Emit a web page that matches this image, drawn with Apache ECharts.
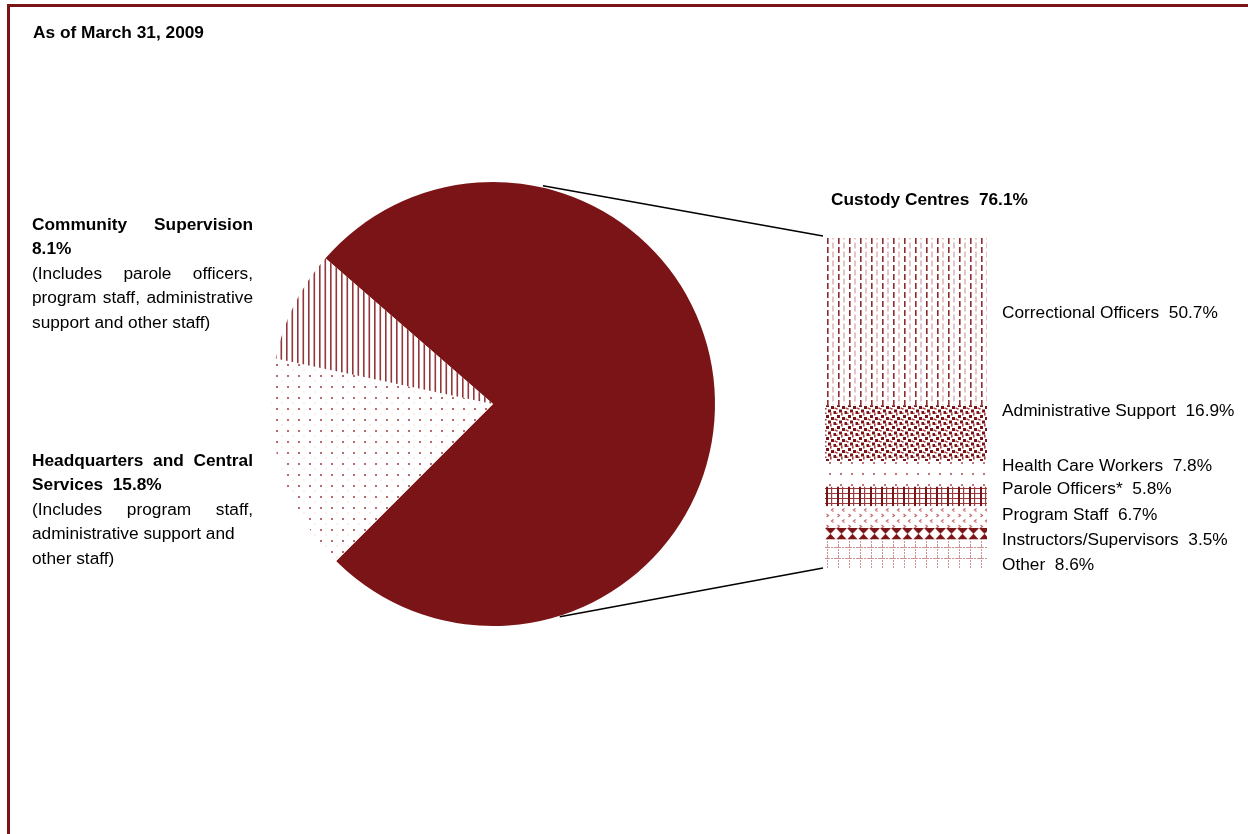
<!DOCTYPE html>
<html><head><meta charset="utf-8">
<script src="https://cdn.jsdelivr.net/npm/echarts@6/dist/echarts.min.js"></script>
<style>html,body{margin:0;padding:0;background:#fff}#c{width:1248px;height:834px}</style>
</head><body><div id="c"></div>
<script>
// ---------- data ----------
const chartTitle = 'As of March 31, 2009';
const pieNames = ['Custody Centres', 'Headquarters and Central Services', 'Community Supervision'];
const pieValues = [76.1, 15.8, 8.1];
const custodyCategories = ['Correctional Officers', 'Administrative Support', 'Health Care Workers',
  'Parole Officers*', 'Program Staff', 'Instructors/Supervisors', 'Other'];
const custodyValues = [50.7, 16.9, 7.8, 5.8, 6.7, 3.5, 8.6];
const communityNote = ['(Includes parole officers,', 'program staff, administrative', 'support and other staff)'];
const hqNote = ['(Includes program staff,', 'administrative support and', 'other staff)'];

// ---------- layout / style ----------
const DR = '#7b1416';
const FS = 17.3;
const FONT = '"Liberation Sans", Arial, sans-serif';
const PIE_C = [493, 404], PIE_R = 222;
const BAR = {left: 825, top: 238, width: 162, height: 330};
const labelDy = [-8, -22, -8, -7, -2, 6, 11];
const LX = 32, RX = 253;

function tile(w, h, draw) {
  const c = document.createElement('canvas'); c.width = w; c.height = h;
  const g = c.getContext('2d'); g.fillStyle = '#fff'; g.fillRect(0, 0, w, h); draw(g); return c;
}
function pat(canvas, x, y) { return {image: canvas, repeat: 'repeat', x: x || 0, y: y || 0}; }

const pCommunity = tile(11, 4, g => { g.fillStyle = '#93383a'; g.fillRect(0, 0, 1.6, 4); g.fillRect(5.5, 0, 1.6, 4); });
const pHQ = tile(11, 11, g => { g.fillStyle = '#b86a6c'; g.fillRect(1, 1, 2, 2); g.fillStyle = '#e6c0c0'; g.fillRect(6.5, 6.5, 1, 1); });
const pCorr = tile(11, 9, g => {
  g.fillStyle = '#8e2c2e'; g.fillRect(2, 0, 1.6, 6);
  g.fillStyle = '#c98a8c'; g.fillRect(7.5, 4.5, 1, 4.5); g.fillRect(7.5, 0, 1, 1.5);
});
const pAdmin = tile(11, 11, g => {
  g.fillStyle = DR;
  [[1,1],[6,3],[3,6.5],[8.5,8]].forEach(p => g.fillRect(p[0], p[1], 3, 3));
  g.fillStyle = '#a84446';
  [[5,0],[0,5],[9.5,4.5],[5,9.5],[0,9.5]].forEach(p => g.fillRect(p[0], p[1], 1.6, 1.6));
});
const pHealth = tile(11, 11, g => { g.fillStyle = '#c07577'; g.fillRect(4, 4, 2, 2); });
const pParole = tile(11, 5, g => {
  g.fillStyle = '#9a3a3c'; g.fillRect(0, 0, 11, 1);
  g.fillStyle = DR; g.fillRect(1, 0, 2, 5);
  g.fillStyle = '#9a3c3e'; g.fillRect(6, 0, 1.2, 5);
});
const pProgram = tile(11, 11, g => {
  g.strokeStyle = '#c26a6c'; g.lineWidth = 1.2;
  g.beginPath(); g.moveTo(1.5, 1); g.lineTo(3.5, 2.5); g.lineTo(1.5, 4); g.stroke();
  g.beginPath(); g.moveTo(8.5, 6.5); g.lineTo(6.5, 8); g.lineTo(8.5, 9.5); g.stroke();
});
function pInstr(h) {
  return tile(11, h, g => {
    g.fillStyle = DR;
    g.beginPath(); g.moveTo(0, 0); g.lineTo(11, 0); g.lineTo(5.5, h / 2); g.closePath(); g.fill();
    g.beginPath(); g.moveTo(0, h); g.lineTo(11, h); g.lineTo(5.5, h / 2); g.closePath(); g.fill();
  });
}
const pOther = tile(11, 11, g => {
  g.fillStyle = '#cf9496';
  for (let i = 0; i < 11; i += 3) { g.fillRect(2, i, 1, 2); g.fillRect(i, 1, 2, 1); }
});

const chart = echarts.init(document.getElementById('c'), null, {renderer: 'canvas'});

// justified text helpers
const mctx = document.createElement('canvas').getContext('2d');
function lineEls(text, y, bold, justify) {
  const font = (bold ? 'bold ' : '') + FS + 'px ' + FONT;
  if (!justify) return [{type: 'text', silent: true, style: {text, x: LX, y, font, fill: '#000', textVerticalAlign: 'middle'}}];
  mctx.font = font;
  const words = text.split(/\s+/);
  const widths = words.map(w => mctx.measureText(w).width);
  const total = widths.reduce((a, b) => a + b, 0);
  const gap = (RX - LX - total) / (words.length - 1);
  let x = LX; const els = [];
  words.forEach((w, i) => { els.push({type: 'text', silent: true, style: {text: w, x, y, font, fill: '#000', textVerticalAlign: 'middle'}}); x += widths[i] + gap; });
  return els;
}
const LH = 24.5;
function textGraphics() {
  let g = [];
  g.push({type: 'text', silent: true, style: {text: chartTitle, x: 33, y: 33, font: 'bold ' + FS + 'px ' + FONT, fill: '#000', textVerticalAlign: 'middle'}});
  // Community block
  let y = 225;
  g = g.concat(lineEls(pieNames[2], y, true, true));
  g = g.concat(lineEls(pieValues[2].toFixed(1) + '%', y + LH, true, false));
  g = g.concat(lineEls(communityNote[0], y + 2 * LH, false, true));
  g = g.concat(lineEls(communityNote[1], y + 3 * LH, false, true));
  g = g.concat(lineEls(communityNote[2], y + 4 * LH, false, false));
  // HQ block
  y = 461;
  const hqWords = pieNames[1].split(' ');
  g = g.concat(lineEls(hqWords.slice(0, 3).join(' '), y, true, true));
  g = g.concat(lineEls(hqWords.slice(3).join(' ') + '  ' + pieValues[1].toFixed(1) + '%', y + LH, true, false));
  g = g.concat(lineEls(hqNote[0], y + 2 * LH, false, true));
  g = g.concat(lineEls(hqNote[1], y + 3 * LH, false, false));
  g = g.concat(lineEls(hqNote[2], y + 4 * LH, false, false));
  // Custody heading
  g.push({type: 'text', silent: true, style: {text: pieNames[0] + '  ' + pieValues[0].toFixed(1) + '%', x: 831, y: 200, font: 'bold ' + FS + 'px ' + FONT, fill: '#000', textVerticalAlign: 'middle'}});
  // frame
  g.push({type: 'line', silent: true, shape: {x1: 7, y1: 5.5, x2: 1248, y2: 5.5}, style: {stroke: DR, lineWidth: 3}});
  g.push({type: 'line', silent: true, shape: {x1: 8.5, y1: 4, x2: 8.5, y2: 834}, style: {stroke: DR, lineWidth: 3}});
  return g;
}

const barPatterns = [pCorr, pAdmin, pHealth, pParole, pProgram, null, pOther];

function buildOption(instrY, instrH) {
  return {
    animation: false,
    backgroundColor: '#fff',
    grid: {left: BAR.left, top: BAR.top, width: BAR.width, height: BAR.height, containLabel: false},
    xAxis: {type: 'category', data: ['Custody Centres'], show: false, boundaryGap: true},
    yAxis: {type: 'value', min: 0, max: 100, inverse: true, show: false},
    series: [{
      type: 'pie', center: PIE_C, radius: PIE_R, startAngle: 139, clockwise: true,
      label: {show: false}, labelLine: {show: false}, emphasis: {disabled: true}, silent: true,
      itemStyle: {borderWidth: 0},
      data: pieNames.map((n, i) => ({name: n, value: pieValues[i],
        itemStyle: {color: i === 0 ? DR : (i === 1 ? pat(pHQ) : pat(pCommunity))}}))
    }].concat(custodyCategories.map((n, i) => ({
      type: 'bar', name: n, stack: 'custody', barWidth: '100%', silent: true,
      data: [custodyValues[i]],
      itemStyle: {color: i === 5 ? pat(pInstr(instrH || 12), BAR.left, instrY || 0) : pat(barPatterns[i], BAR.left, BAR.top)},
      label: {show: true, position: 'right', distance: 15, offset: [0, labelDy[i]],
        formatter: p => p.seriesName + '  ' + p.value.toFixed(1) + '%',
        fontFamily: FONT, fontSize: FS, color: '#000'}
    }))),
    graphic: textGraphics()
  };
}

chart.setOption(buildOption());
// align the hourglass pattern to its segment and draw connectors using the axis scale
const cumBefore = custodyValues.slice(0, 5).reduce((a, b) => a + b, 0);
const iTop = chart.convertToPixel({yAxisIndex: 0}, cumBefore);
const iBot = chart.convertToPixel({yAxisIndex: 0}, cumBefore + custodyValues[5]);
const opt = buildOption(iTop, iBot - iTop);
const yTop = chart.convertToPixel({yAxisIndex: 0}, 0);
const yBot = chart.convertToPixel({yAxisIndex: 0}, custodyValues.reduce((a, b) => a + b, 0));
const a1 = 77 * Math.PI / 180, a2 = -72.5 * Math.PI / 180;
opt.graphic.push({type: 'line', silent: true, shape: {x1: PIE_C[0] + PIE_R * Math.cos(a1), y1: PIE_C[1] - PIE_R * Math.sin(a1) - 2, x2: BAR.left - 2, y2: yTop - 2}, style: {stroke: '#000', lineWidth: 1.5}});
opt.graphic.push({type: 'line', silent: true, shape: {x1: PIE_C[0] + PIE_R * Math.cos(a2), y1: PIE_C[1] - PIE_R * Math.sin(a2) + 1, x2: BAR.left - 2, y2: yBot}, style: {stroke: '#000', lineWidth: 1.5}});
chart.setOption(opt, true);
</script></body></html>
